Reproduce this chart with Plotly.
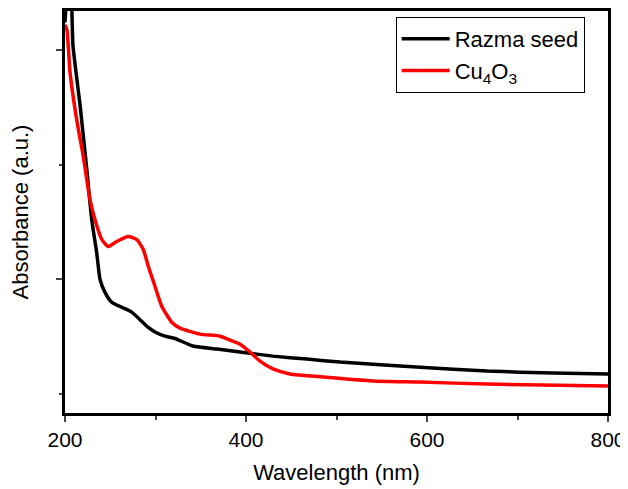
import plotly.graph_objects as go

wl_razma = [200, 203, 206, 208.8, 216.6, 224.3, 229.5, 235.0, 238.7, 244.2, 251.6, 262.7, 273.7, 284.8,
            291.7, 299.4, 310.5, 321.5, 341.4, 368, 393.4, 429.8, 467.4, 503.9, 592.3, 666.3, 739.2, 800]
abs_razma = [2.12, 2.28, 2.3, 2.02, 1.761, 1.47, 1.261, 1.117, 1.0, 0.943, 0.9, 0.878, 0.857, 0.817,
             0.791, 0.77, 0.752, 0.742, 0.709, 0.696, 0.683, 0.665, 0.652, 0.639, 0.617, 0.6, 0.591, 0.587]

wl_cu = [200, 202.2, 205.5, 213.3, 219.9, 227.6, 233.1, 240.6, 247.8, 257.1, 269.9, 279.2, 286.5, 292.0,
         299.4, 306.9, 317.9, 327.1, 349.2, 371.3, 385.6, 393.4, 404.4, 415.5, 429.8, 448.6, 485.1, 540.3,
         592.3, 666.3, 800]
abs_cu = [2.11, 2.087, 1.904, 1.687, 1.543, 1.348, 1.261, 1.174, 1.143, 1.165, 1.187, 1.174, 1.13, 1.057,
          0.97, 0.883, 0.813, 0.787, 0.761, 0.752, 0.73, 0.717, 0.683, 0.643, 0.609, 0.587, 0.574, 0.557,
          0.552, 0.543, 0.535]

x_ticks = [200, 400, 600, 800]
y_major = [1.0, 2.0]
y_minor = [0.5, 1.5]

fig = go.Figure()
fig.add_trace(go.Scatter(x=wl_razma, y=abs_razma, mode="lines", name="Razma seed",
                         line=dict(color="black", width=3.5, shape="spline", smoothing=0.5)))
fig.add_trace(go.Scatter(x=wl_cu, y=abs_cu, mode="lines", name="Cu<sub>4</sub>O<sub>3</sub>",
                         line=dict(color="#ff0000", width=3.5, shape="spline", smoothing=0.5)))

font = "Liberation Sans, Arial, sans-serif"
fig.update_layout(
    width=620, height=481,
    margin=dict(l=57, r=20, t=3, b=76),
    paper_bgcolor="white", plot_bgcolor="white",
    font=dict(family=font, size=22, color="black"),
    showlegend=True,
    legend=dict(x=0.609, y=0.985, xanchor="left", yanchor="top",
                bordercolor="black", borderwidth=1, bgcolor="white",
                font=dict(size=22, family=font), tracegroupgap=0, itemwidth=48),
    xaxis=dict(range=[200, 800], tickvals=x_ticks, ticks="outside", ticklen=6, tickwidth=2,
               showline=True, linecolor="black", linewidth=2.5, mirror=True, showgrid=False,
               zeroline=False, tickfont=dict(size=21), automargin=False,
               minor=dict(dtick=100, tick0=200, ticks="outside", ticklen=4, tickwidth=2, showgrid=False),
               title=dict(text="Wavelength (nm)", font=dict(size=22), standoff=15)),
    yaxis=dict(range=[0.417, 2.17], tickvals=y_major, ticks="outside", ticklen=6, tickwidth=2,
               showticklabels=False, automargin=False,
               showline=True, linecolor="black", linewidth=2.5, mirror=True, showgrid=False,
               zeroline=False,
               minor=dict(tickvals=y_minor, ticks="outside", ticklen=3, tickwidth=2, showgrid=False),
               title=dict(text="Absorbance (a.u.)", font=dict(size=22), standoff=22)),
)

fig.write_html("out.html")
